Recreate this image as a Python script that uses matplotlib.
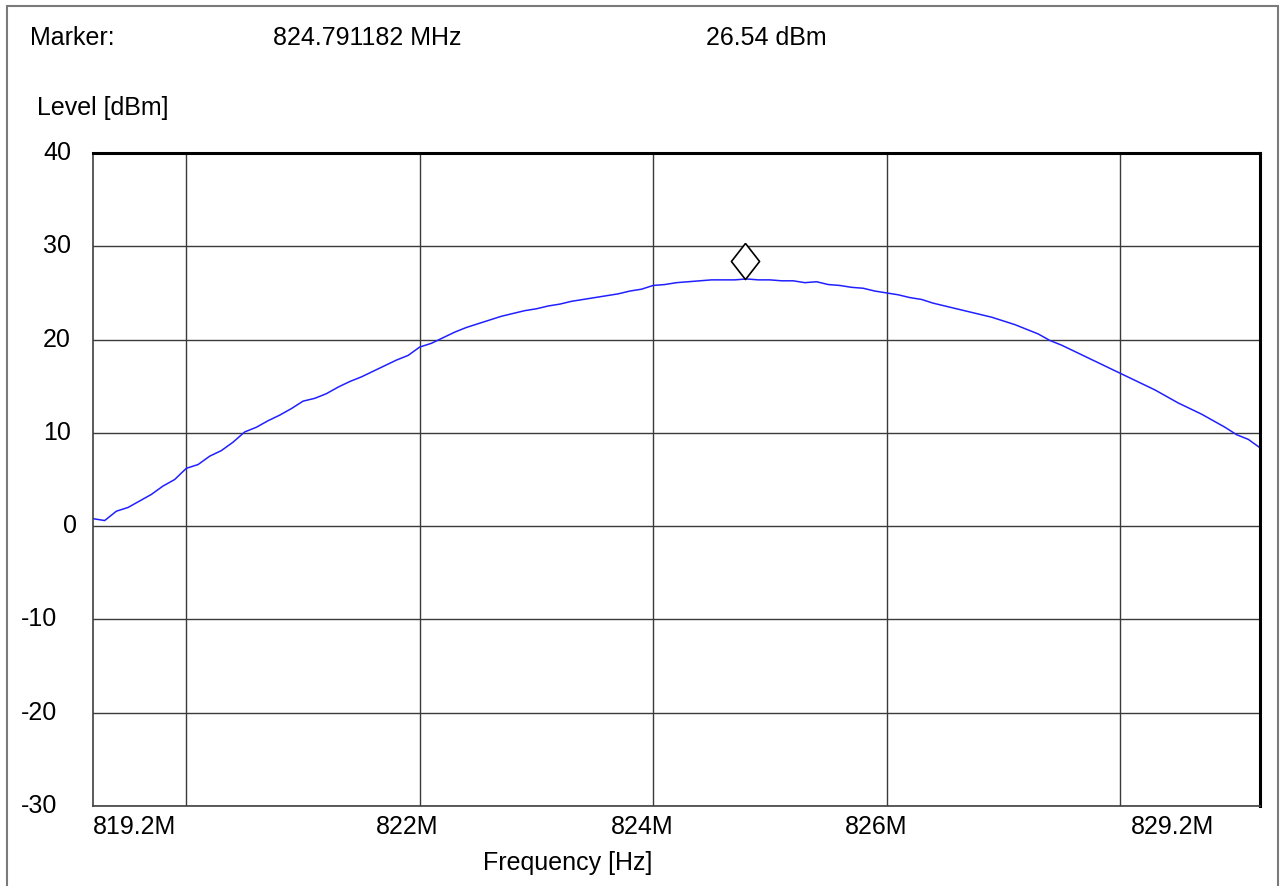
import matplotlib
matplotlib.use("Agg")
import matplotlib.pyplot as plt
import matplotlib.transforms as mtransforms
from matplotlib.patches import Rectangle
import numpy as np

plt.rcParams['font.family'] = ['Liberation Sans', 'DejaVu Sans']

# trace, MHz / dBm at 0.1 MHz steps
freq_mhz = np.round(np.arange(819.2, 829.21, 0.1), 1)
level_dbm = [
    0.8, 0.6, 1.6, 2.0, 2.7, 3.4, 4.3, 5.0, 6.2, 6.6,
    7.5, 8.1, 9.0, 10.1, 10.6, 11.3, 11.9, 12.6, 13.4, 13.7,
    14.2, 14.9, 15.5, 16.0, 16.6, 17.2, 17.8, 18.3, 19.2, 19.6,
    20.2, 20.8, 21.3, 21.7, 22.1, 22.5, 22.8, 23.1, 23.3, 23.6,
    23.8, 24.1, 24.3, 24.5, 24.7, 24.9, 25.2, 25.4, 25.8, 25.9,
    26.1, 26.2, 26.3, 26.4, 26.4, 26.4, 26.5, 26.4, 26.4, 26.3,
    26.3, 26.1, 26.2, 25.9, 25.8, 25.6, 25.5, 25.2, 25.0, 24.8,
    24.5, 24.3, 23.9, 23.6, 23.3, 23.0, 22.7, 22.4, 22.0, 21.6,
    21.1, 20.6, 19.9, 19.4, 18.8, 18.2, 17.6, 17.0, 16.4, 15.8,
    15.2, 14.6, 13.9, 13.2, 12.6, 12.0, 11.3, 10.6, 9.8, 9.3,
    8.4,
]

marker_freq = 824.791182
marker_level = 26.54

x_grid = [820, 822, 824, 826, 828]
x_labels = ["819.2M", "822M", "824M", "826M", "829.2M"]
y_ticks = [40, 30, 20, 10, 0, -10, -20, -30]

W, H = 1286, 886
fig = plt.figure(figsize=(W / 100, H / 100), dpi=100)
ax = fig.add_axes([93 / W, 1 - 806 / H, (1260 - 93) / W, (806 - 153) / H])


def px(x, y):
    return x / W, 1 - y / H


ax.plot(freq_mhz, level_dbm, color='#2020ff', lw=1.1)

# marker diamond sitting on the trace
off = mtransforms.offset_copy(ax.transData, fig=fig, x=0, y=18, units='dots')
diamond = [(0, 1), (0.78, 0), (0, -1), (-0.78, 0), (0, 1)]
ax.plot([marker_freq], [marker_level], marker=diamond, markersize=26,
        markerfacecolor='white', markeredgecolor='black', markeredgewidth=1.2,
        transform=off, zorder=5)

ax.set_xlim(819.2, 829.2)
ax.set_ylim(-30, 40)
ax.set_xticks(x_grid)
ax.set_yticks(y_ticks)
ax.set_xticklabels([])
ax.set_yticklabels([])
ax.tick_params(length=0)
ax.grid(True, color='#3a3a3a', lw=1.0)
ax.set_axisbelow(True)
for s in ['top', 'right']:
    ax.spines[s].set_linewidth(2.2)
    ax.spines[s].set_color('black')
for s in ['left', 'bottom']:
    ax.spines[s].set_linewidth(1.2)
    ax.spines[s].set_color('#404040')

fs = 18
# y labels
ylab_tr = mtransforms.blended_transform_factory(fig.transFigure, ax.transData)
for v in y_ticks:
    if v < 0:
        xr = 57
    elif v == 0:
        xr = 77
    else:
        xr = 71
    fig.text(xr / W, v, str(v), transform=ylab_tr, ha='right', va='center', fontsize=fs)

# x labels
x_label_cx = [134, 407, 642, 876, 1172]
for cx, lab in zip(x_label_cx, x_labels):
    fig.text(*px(cx, 827), lab, ha='center', va='center', fontsize=fs)

fig.text(*px(483, 863), "Frequency [Hz]", ha='left', va='center', fontsize=fs)
fig.text(*px(37, 108), "Level [dBm]", ha='left', va='center', fontsize=fs)
fig.text(*px(30, 38), "Marker:", ha='left', va='center', fontsize=fs)
fig.text(*px(273, 38), f"{marker_freq:.6f} MHz", ha='left', va='center', fontsize=fs)
fig.text(*px(706, 38), f"{marker_level:.2f} dBm", ha='left', va='center', fontsize=fs)

# outer frame
fig.add_artist(Rectangle(px(7, 900), (1278 - 7) / W, (900 - 6) / H,
                         transform=fig.transFigure, fill=False,
                         edgecolor='#7a7a7a', lw=1.5))

fig.savefig("out.png", dpi=100)
